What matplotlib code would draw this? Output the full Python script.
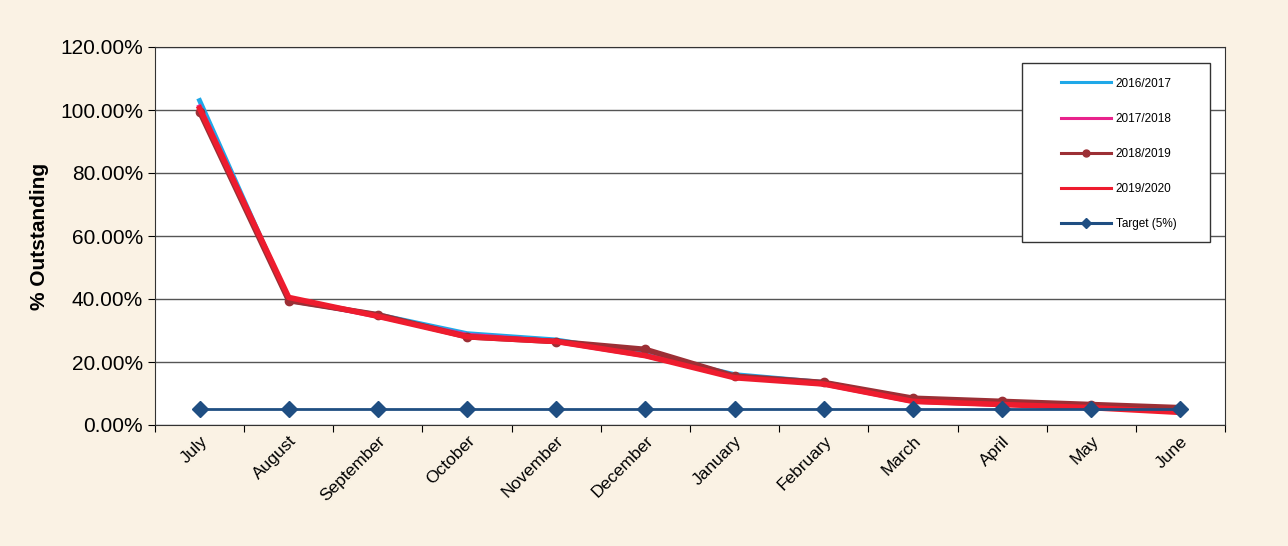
import matplotlib.pyplot as plt
from matplotlib.patches import Rectangle
from matplotlib.ticker import FuncFormatter

plt.rcParams['font.family'] = ['Liberation Sans', 'DejaVu Sans']

months = ['July', 'August', 'September', 'October', 'November', 'December',
          'January', 'February', 'March', 'April', 'May', 'June']
y2016 = [103.0, 39.5, 35.0, 29.0, 27.0, 22.5, 16.0, 13.5, 8.0, 7.0, 6.0, 5.0]
y2017 = [101.0, 40.0, 34.5, 28.5, 26.5, 22.0, 15.5, 13.0, 7.5, 6.5, 6.0, 4.5]
y2018 = [99.5, 39.5, 35.0, 28.0, 26.5, 24.0, 15.5, 13.5, 8.5, 7.5, 6.5, 5.5]
y2019 = [100.5, 40.5, 34.5, 28.0, 26.5, 22.0, 15.0, 13.0, 7.5, 6.5, 5.5, 4.0]
target = [5.0] * 12

W, H = 1288, 546
bg = '#faf2e4'
fig = plt.figure(figsize=(W / 100, H / 100), dpi=100, facecolor=bg)
ax = fig.add_axes([155 / W, 1 - 425 / H, 1070 / W, 378 / H])
ax.set_facecolor('white')

x = list(range(len(months)))
ax.plot(x, y2016, color='#1fa8e8', lw=3.5, label='2016/2017', zorder=3)
ax.plot(x, y2017, color='#e8238c', lw=3.5, label='2017/2018', zorder=3)
ax.plot(x, y2018, color='#9c2f35', lw=4, marker='o', ms=6, label='2018/2019', zorder=4)
ax.plot(x, y2019, color='#ee1c2e', lw=4, label='2019/2020', zorder=5)
ax.plot(x, target, color='#1f4e82', lw=2, marker='D', ms=8, label='Target (5%)', zorder=6)

ax.set_xlim(-0.5, 11.5)
ax.set_ylim(0, 120)
ax.set_yticks(range(0, 121, 20))
ax.yaxis.set_major_formatter(FuncFormatter(lambda v, p: '{:.2f}%'.format(v)))
ax.set_xticks([i + 0.5 for i in range(-1, 12)])
ax.set_xticklabels([])
ax.set_xticks(x, minor=True)
ax.set_xticklabels(months, minor=True, rotation=45, ha='right', rotation_mode='anchor', fontsize=12.5)
ax.tick_params(axis='x', which='minor', length=0, pad=6)
ax.tick_params(axis='x', which='major', length=5, direction='out')
ax.tick_params(axis='y', labelsize=15, length=5)
ax.grid(axis='y', color='#555555', lw=1)
ax.set_axisbelow(True)
for s in ax.spines.values():
    s.set_color('#333333')
ax.set_ylabel('% Outstanding', fontsize=15, fontweight='bold', labelpad=8)

# legend box drawn separately so the frame can be wider than the entries
fig.patches.append(Rectangle((1022 / W, 1 - 242 / H), 188 / W, 179 / H, transform=fig.transFigure,
                             facecolor='white', edgecolor='#333333', lw=1, zorder=5))
leg = fig.legend(loc='upper left', bbox_to_anchor=(1050 / W, 1 - 67 / H), fontsize=8.5,
                 labelspacing=1.95, handlelength=4.3, handletextpad=0.35, borderpad=0.4, frameon=False)
leg.set_zorder(6)
for h in leg.get_lines():
    h.set_linewidth(2.2)
    h.set_markersize(5)

fig.savefig('out.png', dpi=100, facecolor=bg)
